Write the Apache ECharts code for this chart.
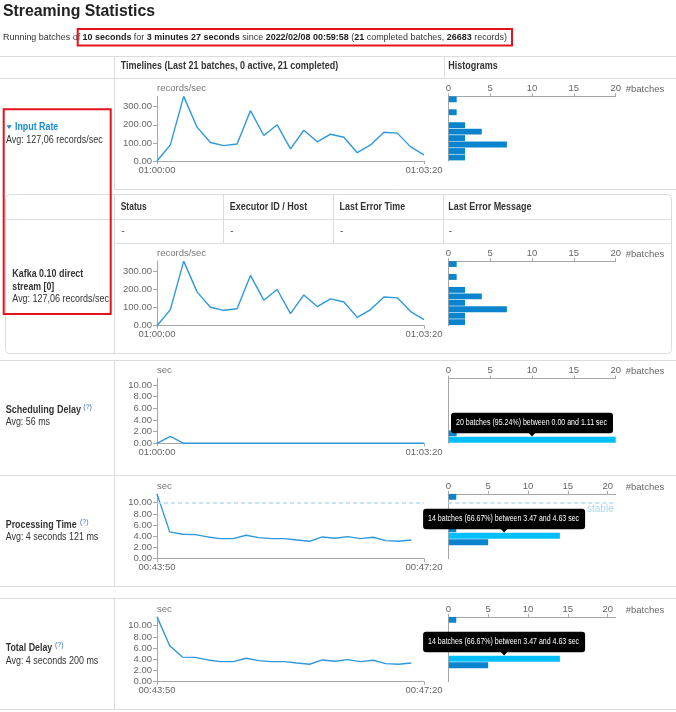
<!DOCTYPE html>
<html>
<head>
<meta charset="utf-8">
<title>Streaming Statistics</title>
<script src="https://cdn.jsdelivr.net/npm/echarts@6/dist/echarts.min.js"></script>
<style>
html, body { margin: 0; padding: 0; background: #fff; }
#page { width: 676px; height: 712px; }
</style>
</head>
<body>
<div id="page"></div>
<script>
// ---- data ----
var batchSec = 10;
var totalBatches = 21;

// input rate per batch, records/sec (01:00:00 .. 01:03:20)
var inputRate = [0, 89, 357, 187, 102, 85, 94, 278, 141, 200, 67, 170, 106, 148, 131, 46, 89, 159, 154, 78, 34];
// histogram: batches per bin, bottom bin first (10 bins over 0..max)
var inputHist = [2, 2, 7, 2, 4, 2, 0, 1, 0, 1];

// scheduling delay, sec
var schedDelay = [0, 1.17, 0, 0, 0, 0, 0, 0, 0, 0, 0, 0, 0, 0, 0, 0, 0, 0, 0, 0, 0];
var schedAxisMax = 11.1;
var schedHist = [20, 1, 0, 0, 0, 0, 0, 0, 0, 0];

// processing time, sec (00:43:50 .. 00:47:10)
var procTime = [11.58, 4.79, 4.37, 4.31, 3.89, 3.59, 3.59, 4.19, 3.77, 3.59, 3.59, 3.35, 3.11, 3.89, 3.65, 3.95, 3.59, 3.83, 3.23, 3.11, 3.35];
var procHist = [0, 0, 5, 14, 1, 0, 0, 0, 0, 1];

// total delay, sec
var totalDelay = [11.58, 6.43, 4.40, 4.35, 3.89, 3.59, 3.59, 4.19, 3.77, 3.59, 3.59, 3.35, 3.12, 3.89, 3.65, 3.95, 3.59, 3.83, 3.23, 3.12, 3.35];
var totalHist = [0, 0, 5, 14, 0, 1, 0, 0, 0, 1];

var histXMax = [20, 20, 20, 21, 21];
var hoverBin = [-1, -1, 0, 3, 3];

function batchTimes(start, n) {
	var p = start.split(':').map(Number);
	var s = p[0] * 3600 + p[1] * 60 + p[2];
	var out = [];
	for (var i = 0; i < n; i++) {
		var t = s + i * batchSec;
		var hh = Math.floor(t / 3600), mm = Math.floor(t / 60) % 60, ss = t % 60;
		out.push([hh, mm, ss].map(function (v) { return (v < 10 ? '0' : '') + v; }).join(':'));
	}
	return out;
}
var rateTimes = batchTimes('01:00:00', 21);
var delayTimes = batchTimes('00:43:50', 22);

// ---- look ----
var FONT = '"Liberation Sans", Arial, sans-serif';
var LINE = '#2e98dc', BAR = '#0a84cc', HOVER = '#00bfff';
var AXIS = '#a6a6a6', TICKTXT = '#666', RULE = '#dcdcdc', RED = '#e3121b';

function maxOf(a) { return Math.max.apply(null, a); }

var rows = [
	{ top: 96.4, h: 64.6, times: rateTimes, data: inputRate, unit: 'records/sec', yMax: maxOf(inputRate), step: 100, hist: inputHist },
	{ top: 261.1, h: 64.6, times: rateTimes, data: inputRate, unit: 'records/sec', yMax: maxOf(inputRate), step: 100, hist: inputHist },
	{ top: 378.6, h: 64.7, times: rateTimes, data: schedDelay, unit: 'sec', yMax: schedAxisMax, step: 2, hist: schedHist },
	{ top: 493.9, h: 64.8, times: delayTimes, data: procTime, unit: 'sec', yMax: maxOf(procTime), step: 2, hist: procHist, stable: true },
	{ top: 616.9, h: 64.8, times: delayTimes, data: totalDelay, unit: 'sec', yMax: maxOf(totalDelay), step: 2, hist: totalHist }
];

function ends(n) { return function (i) { return i === 0 || i === n - 1; }; }

function binRenderer(hover) {
	return function (params, api) {
		var n = api.value(2);
		if (!n) return null;
		var a = api.coord([0, api.value(1)]);
		var b = api.coord([n, api.value(0)]);
		return {
			type: 'rect',
			shape: { x: a[0] + 0.5, y: a[1], width: b[0] - a[0] - 0.5, height: b[1] - a[1] - 0.6 },
			style: { fill: params.dataIndex === hover ? HOVER : BAR }
		};
	};
}

var grids = [], xAxes = [], yAxes = [], series = [];
var stableLine = { type: [4, 3], color: '#b3dcf2', width: 1.5 };

rows.forEach(function (r, i) {
	grids[i] = { left: 157, top: r.top, width: 267, height: r.h, outerBoundsMode: 'none' };
	grids[i + 5] = { left: 448.3, top: r.top, width: 167.4, height: r.h, outerBoundsMode: 'none' };

	xAxes[i] = {
		gridIndex: i, type: 'category', data: r.times, boundaryGap: false,
		axisLine: { lineStyle: { color: AXIS } },
		axisTick: { interval: ends(r.times.length), length: 3, lineStyle: { color: AXIS } },
		axisLabel: { interval: ends(r.times.length), color: TICKTXT, fontSize: 9.5, fontFamily: FONT, margin: 4 },
		splitLine: { show: false }
	};
	yAxes[i] = {
		gridIndex: i, type: 'value', min: 0, max: r.yMax, interval: r.step,
		name: r.unit, nameLocation: 'end', nameGap: 3,
		nameTextStyle: { align: 'left', verticalAlign: 'bottom', color: '#777', fontSize: 9.5, fontFamily: FONT },
		axisLine: { show: true, lineStyle: { color: AXIS } },
		axisTick: { show: true, length: 4, lineStyle: { color: AXIS } },
		axisLabel: { showMaxLabel: false, color: TICKTXT, fontSize: 9.5, fontFamily: FONT, margin: 5,
			formatter: function (v) { return v.toFixed(2); } },
		splitLine: { show: false }
	};
	xAxes[i + 5] = {
		gridIndex: i + 5, type: 'value', position: 'top', min: 0, max: histXMax[i], interval: 5,
		name: '#batches', nameLocation: 'end', nameGap: 10,
		nameTextStyle: { align: 'left', verticalAlign: 'bottom', padding: [0, 0, 2, 0], color: TICKTXT, fontSize: 9.5, fontFamily: FONT },
		axisLine: { onZero: false, lineStyle: { color: AXIS } },
		axisTick: { length: 3, lineStyle: { color: AXIS } },
		axisLabel: { showMaxLabel: histXMax[i] % 5 === 0, color: TICKTXT, fontSize: 9.5, fontFamily: FONT, margin: 3 },
		splitLine: { show: false }
	};
	yAxes[i + 5] = {
		gridIndex: i + 5, type: 'value', min: 0, max: r.yMax,
		axisLine: { show: true, onZero: false, lineStyle: { color: AXIS } },
		axisTick: { show: false }, axisLabel: { show: false }, splitLine: { show: false }
	};

	var line = {
		type: 'line', xAxisIndex: i, yAxisIndex: i, data: r.data,
		symbol: 'none', lineStyle: { color: LINE, width: 1.4 }, silent: true, animation: false
	};
	if (r.stable) {
		line.markLine = { silent: true, symbol: ['none', 'none'], data: [{ yAxis: batchSec }],
			lineStyle: stableLine, label: { show: false } };
	}
	series.push(line);

	var bins = r.hist.map(function (c, k) { return [k * r.yMax / 10, (k + 1) * r.yMax / 10, c]; });
	var hs = {
		type: 'custom', xAxisIndex: i + 5, yAxisIndex: i + 5, data: bins,
		encode: { x: 2, y: [0, 1] }, renderItem: binRenderer(hoverBin[i]), silent: true, animation: false
	};
	if (r.stable) {
		hs.markLine = { silent: true, symbol: ['none', 'none'], data: [{ yAxis: batchSec }], lineStyle: stableLine,
			label: { show: true, formatter: 'stable', position: 'insideEndBottom', distance: 2,
				color: '#a9d6ee', fontSize: 10, fontFamily: FONT } };
	}
	series.push(hs);
});

var chart = echarts.init(document.getElementById('page'));
chart.setOption({
	animation: false,
	grid: grids, xAxis: xAxes, yAxis: yAxes, series: series
});

// ---- page furniture: texts, table rules, red boxes, hover tips ----
var mctx = document.createElement('canvas').getContext('2d');
function measure(str, size, weight) {
	mctx.font = weight + ' ' + size + 'px ' + FONT;
	return mctx.measureText(str).width;
}
function label(str, x, y, size, weight, color, w, z) {
	var sx = w ? w / measure(str, size, weight) : 1;
	return {
		type: 'text', x: x, y: y, scaleX: sx, z: z || 10, silent: true,
		style: { text: str, x: 0, y: 0, fill: color, font: weight + ' ' + size + 'px ' + FONT,
			align: 'left', verticalAlign: 'middle', textAlign: 'left', textVerticalAlign: 'middle' }
	};
}
function hline(x1, x2, y) {
	return { type: 'line', z: 1, silent: true, shape: { x1: x1, y1: y, x2: x2, y2: y }, style: { stroke: RULE, lineWidth: 1 } };
}
function vline(x, y1, y2) {
	return { type: 'line', z: 1, silent: true, shape: { x1: x, y1: y1, x2: x, y2: y2 }, style: { stroke: RULE, lineWidth: 1 } };
}

var els = [];

els.push(label('Streaming Statistics', 3, 11.5, 16, 'bold', '#222', 152));

// subtitle with bold runs
var subParts = [
	['Running batches of ', 'n'], ['10 seconds', 'b'], [' for ', 'n'], ['3 minutes 27 seconds', 'b'],
	[' since ', 'n'], ['2022/02/08 00:59:58', 'b'], [' (', 'n'], ['21', 'b'],
	[' completed batches, ', 'n'], ['26683', 'b'], [' records)', 'n']
];
var subSize = 9.5, subW = 0, subText = '';
subParts.forEach(function (p) {
	subW += measure(p[0], subSize, p[1] === 'b' ? 'bold' : 'normal');
	subText += '{' + p[1] + '|' + p[0] + '}';
});
els.push({
	type: 'text', x: 3, y: 37.5, scaleX: 504 / subW, z: 10, silent: true,
	style: { text: subText, x: 0, y: 0, verticalAlign: 'middle', textVerticalAlign: 'middle',
		rich: { n: { font: 'normal ' + subSize + 'px ' + FONT, fill: '#333', color: '#333' },
			b: { font: 'bold ' + subSize + 'px ' + FONT, fill: '#222', color: '#222' } } }
});

// main table header
els.push(hline(0, 676, 56.5), hline(0, 676, 78.5), vline(114.5, 56.5, 189.5), vline(444.5, 56.5, 78.5));
els.push(label('Timelines (Last 21 batches, 0 active, 21 completed)', 120.7, 66.5, 10.5, 'bold', '#333', 217.6));
els.push(label('Histograms', 448.3, 66.5, 10.5, 'bold', '#333', 49.4));

// input rate row
els.push(hline(114.5, 676, 189.5));
els.push({ type: 'polygon', z: 10, silent: true, shape: { points: [[6.5, 125.3], [11.7, 125.3], [9.1, 129]] }, style: { fill: '#1a8ad4' } });
els.push(label('Input Rate', 15, 127.3, 10.5, 'bold', '#1a8ad4', 43.3));
els.push(label('Avg: 127,06 records/sec', 6, 140, 10, 'normal', '#333', 96.7));

// kafka receiver box
els.push({ type: 'rect', z: 1, silent: true, shape: { x: 5.5, y: 194.5, width: 666, height: 159, r: 4 }, style: { fill: 'none', stroke: RULE, lineWidth: 1 } });
els.push(vline(114.5, 194.5, 353.5), hline(5.5, 671.5, 219.5), hline(114.5, 671.5, 243.5));
els.push(vline(223.5, 194.5, 243.5), vline(333.5, 194.5, 243.5), vline(443.5, 194.5, 243.5));
[['Status', 120.7, 25.9], ['Executor ID / Host', 229.7, 77.6], ['Last Error Time', 339.6, 65.5], ['Last Error Message', 448.3, 83.2]].forEach(function (h) {
	els.push(label(h[0], h[1], 206.7, 10.5, 'bold', '#333', h[2]));
	els.push(label('-', h[1] + 0.5, 231.2, 10, 'normal', '#555'));
});
els.push(label('Kafka 0.10 direct', 12.3, 274, 10.5, 'bold', '#333', 71));
els.push(label('stream [0]', 12.3, 287, 10.5, 'bold', '#333', 42));
els.push(label('Avg: 127,06 records/sec', 12.3, 299.3, 10, 'normal', '#333', 96.7));

// delay sections
els.push(hline(0, 676, 360.5), vline(114.5, 360.5, 475.5));
els.push(hline(0, 676, 475.5), vline(114.5, 475.5, 586.5));
els.push(hline(0, 676, 586.5), hline(0, 676, 598.5), vline(114.5, 598.5, 709.5), hline(0, 676, 709.5));

var QCOL = '#3a6fb5';
els.push(label('Scheduling Delay', 5.7, 410, 10.5, 'bold', '#333', 75.3));
els.push(label('(?)', 83.3, 407.3, 7, 'normal', QCOL));
els.push(label('Avg: 56 ms', 5.7, 422.7, 10, 'normal', '#333', 44.3));
els.push(label('Processing Time', 5.7, 525, 10.5, 'bold', '#333', 71));
els.push(label('(?)', 80, 522.3, 7, 'normal', QCOL));
els.push(label('Avg: 4 seconds 121 ms', 5.7, 537.7, 10, 'normal', '#333', 92.6));
els.push(label('Total Delay', 5.7, 648.3, 10.5, 'bold', '#333', 46.6));
els.push(label('(?)', 55, 645.5, 7, 'normal', QCOL));
els.push(label('Avg: 4 seconds 200 ms', 5.7, 661, 10, 'normal', '#333', 92.6));

// red annotation boxes
els.push({ type: 'rect', z: 60, silent: true, shape: { x: 77.7, y: 29, width: 434.3, height: 16.5 }, style: { fill: 'none', stroke: RED, lineWidth: 2 } });
els.push({ type: 'rect', z: 60, silent: true, shape: { x: 3.7, y: 109.3, width: 107, height: 204.7 }, style: { fill: 'none', stroke: RED, lineWidth: 2 } });

// hover tips over the highlighted histogram bins
rows.forEach(function (r, i) {
	var k = hoverBin[i];
	if (k < 0) return;
	var n = r.hist[k], lo = k * r.yMax / 10, hi = (k + 1) * r.yMax / 10;
	var txt = n + ' batches (' + (n / totalBatches * 100).toFixed(2) + '%) between ' + lo.toFixed(2) + ' and ' + hi.toFixed(2) + ' sec';
	var p = chart.convertToPixel({ gridIndex: i + 5 }, [n / 2, hi]);
	var w = 162, h = 20.5;
	var bx = p[0] - w / 2, by = p[1] - 3.5 - h;
	els.push({ type: 'rect', z: 50, silent: true, shape: { x: bx, y: by, width: w, height: h, r: 3 }, style: { fill: '#000' } });
	els.push({ type: 'polygon', z: 50, silent: true, shape: { points: [[p[0] - 3.5, by + h - 0.5], [p[0] + 3.5, by + h - 0.5], [p[0], p[1] - 0.3]] }, style: { fill: '#000' } });
	els.push(label(txt, bx + 5, by + h / 2, 8.5, 'normal', '#fff', 151, 51));
});

chart.setOption({ graphic: { elements: els } });
</script>
</body>
</html>
